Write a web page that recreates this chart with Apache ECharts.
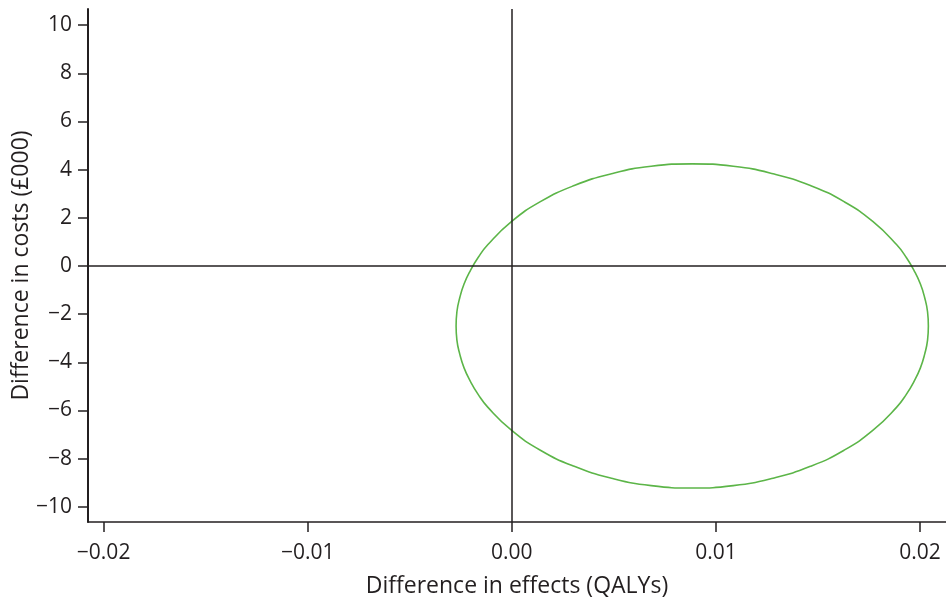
<!DOCTYPE html>
<html>
<head>
<meta charset="utf-8">
<script src="https://cdn.jsdelivr.net/npm/echarts@6/dist/echarts.min.js"></script>
<style>
html,body{margin:0;padding:0;background:#fff;}
#chart{width:946px;height:601px;}
</style>
</head>
<body>
<div id="chart"></div>
<script>
// Confidence ellipse points (difference in effects, difference in costs £000)
const ellipseX = [0.02041, 0.02037, 0.02023, 0.02002, 0.01971, 0.01933, 0.01886, 0.01770, 0.01628, 0.01463, 0.01280, 0.01085, 0.00884,
  0.00683, 0.00488, 0.00306, 0.00140, -0.00002, -0.00118, -0.00165, -0.00203, -0.00234, -0.00255, -0.00269, -0.00273,
  -0.00269, -0.00255, -0.00234, -0.00203, -0.00165, -0.00118, -0.00002, 0.00140, 0.00306, 0.00488, 0.00683, 0.00884,
  0.01085, 0.01280, 0.01463, 0.01628, 0.01770, 0.01886, 0.01933, 0.01971, 0.02002, 0.02023, 0.02037, 0.02041];
const ellipseY = [-2.49, -1.90, -1.32, -0.75, -0.19, 0.35, 0.88, 1.84, 2.67, 3.34, 3.83, 4.14, 4.24,
  4.14, 3.83, 3.34, 2.67, 1.84, 0.88, 0.35, -0.19, -0.75, -1.32, -1.90, -2.49,
  -3.08, -3.66, -4.23, -4.79, -5.33, -5.86, -6.82, -7.65, -8.32, -8.81, -9.12, -9.22,
  -9.12, -8.81, -8.32, -7.65, -6.82, -5.86, -5.33, -4.79, -4.23, -3.66, -3.08, -2.49];
const xTicks = [-0.02, -0.01, 0, 0.01, 0.02];
const yTicks = [-10, -8, -6, -4, -2, 0, 2, 4, 6, 8, 10];
const xName = 'Difference in effects (QALYs)';
const yName = 'Difference in costs (£000)';

const ink = '#231f20';
const font = 'Open Sans';
const minus = v => (v < 0 ? '\u2212' : '');

const chart = echarts.init(document.getElementById('chart'), null, {renderer: 'canvas'});
chart.setOption({
  animation: false,
  backgroundColor: '#fff',
  grid: {left: 88, right: 0, top: 9, bottom: 79, containLabel: false, outerBoundsMode: 'none'},
  xAxis: {
    type: 'value',
    min: -0.020765, max: 0.021274,
    name: xName, nameLocation: 'middle', nameGap: 53,
    nameTextStyle: {color: ink, fontSize: 23, fontFamily: font},
    axisLine: {show: true, onZero: false, lineStyle: {color: ink, width: 1.5}},
    axisTick: {show: true, length: 10, inside: false, customValues: xTicks, lineStyle: {color: ink, width: 1.5}},
    axisLabel: {customValues: xTicks, margin: 21, color: ink, fontSize: 21, fontFamily: font,
      formatter: v => minus(v) + Math.abs(v).toFixed(2)},
    splitLine: {show: false}
  },
  yAxis: {
    type: 'value',
    min: -10.63, max: 10.67,
    name: yName, nameLocation: 'middle', nameGap: 55, nameMoveOverlap: false,
    nameTextStyle: {color: ink, fontSize: 23, fontFamily: font},
    axisLine: {show: true, onZero: false, lineStyle: {color: ink, width: 2}},
    axisTick: {show: true, length: 10, inside: false, customValues: yTicks, lineStyle: {color: ink, width: 1.5}},
    axisLabel: {customValues: yTicks, margin: 16, color: ink, fontSize: 21, fontFamily: font,
      formatter: v => minus(v) + Math.abs(v)},
    splitLine: {show: false}
  },
  series: [{
    type: 'line',
    data: ellipseX.map((x, i) => [x, ellipseY[i]]),
    showSymbol: false,
    smooth: true,
    lineStyle: {color: '#5cb548', width: 1.6},
    silent: true,
    markLine: {
      silent: true,
      symbol: ['none', 'none'],
      label: {show: false},
      lineStyle: {color: ink, type: 'solid', width: 1.5},
      data: [{xAxis: 0}, {yAxis: 0}]
    }
  }]
});
</script>
</body>
</html>
